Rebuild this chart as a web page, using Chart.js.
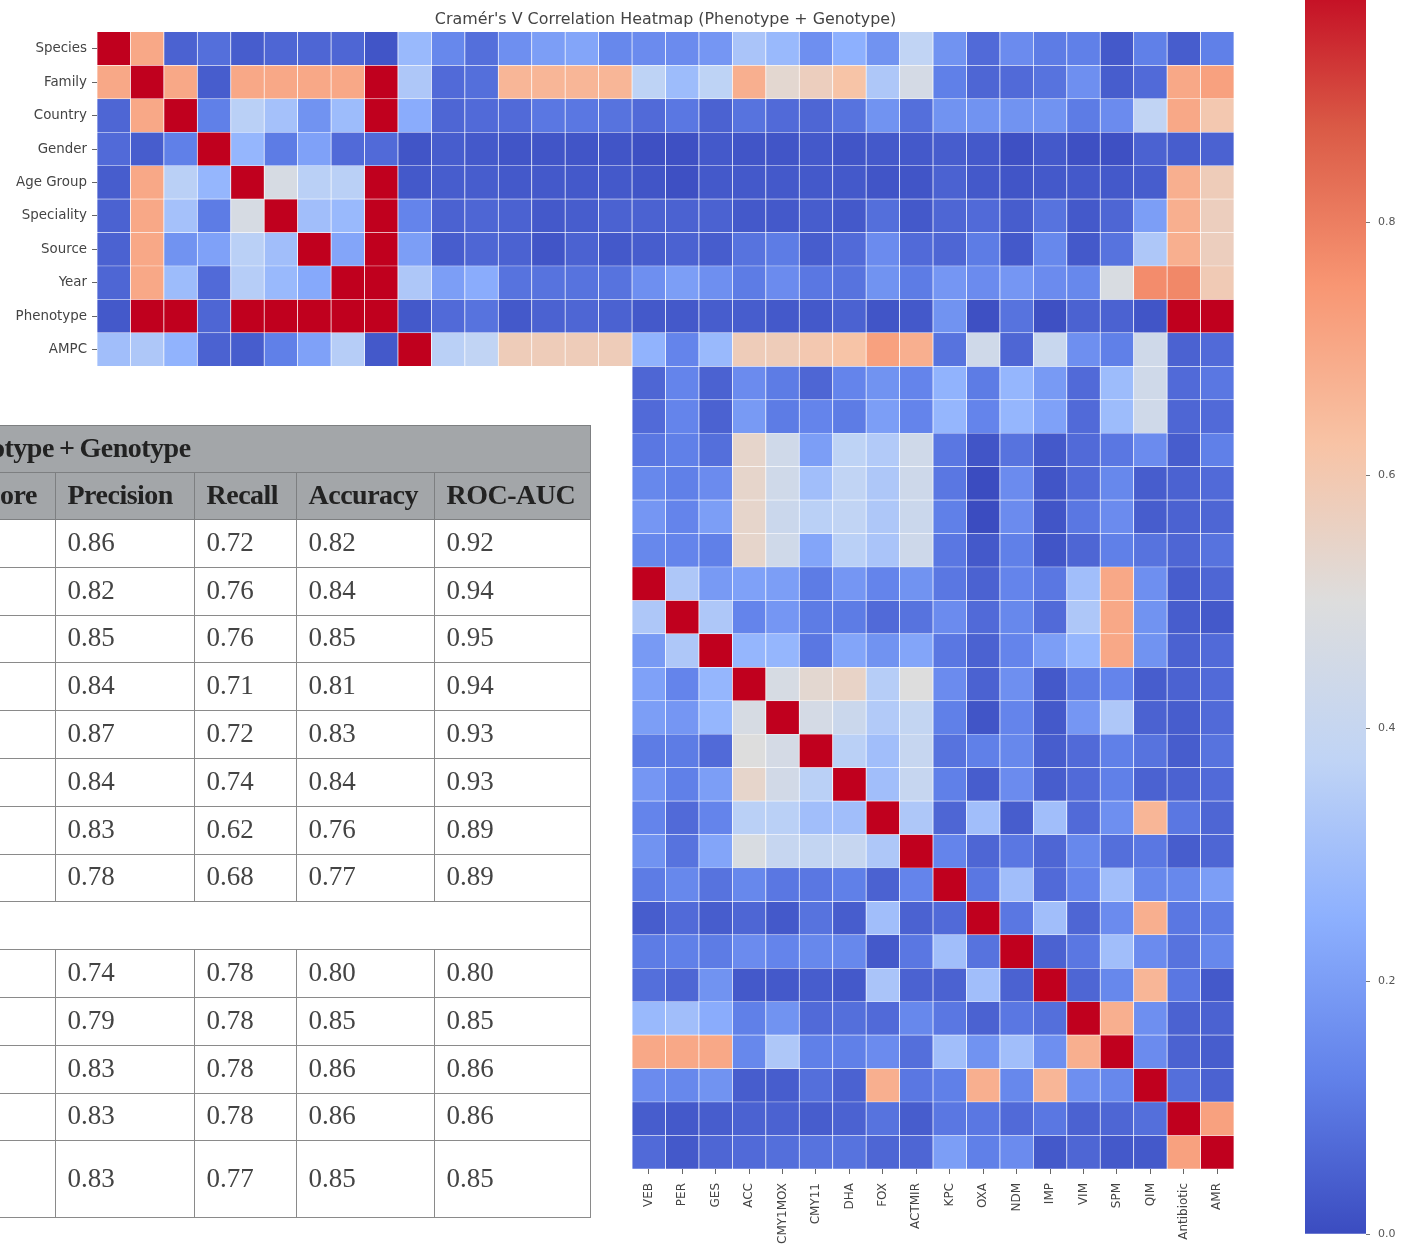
<!DOCTYPE html>
<html>
<head>
<meta charset="utf-8">
<title>Cramér's V Correlation Heatmap</title>
<script src="https://cdn.jsdelivr.net/npm/chart.js@4"></script>
<style>
  html, body { margin: 0; background: #fff; width: 1401px; height: 1247px; overflow: hidden; }
  #heat-wrap { position: absolute; left: 0; top: 0; width: 1401px; height: 1247px; filter: blur(.6px); }
  #bar-wrap { position: absolute; left: 1305px; top: 0; width: 96px; height: 1247px; filter: blur(.6px); }
  #scores {
    position: absolute; left: 0; top: 425px; width: 590px;
    table-layout: fixed; border-collapse: collapse; background: #fff;
    font-family: "Liberation Serif", serif; font-size: 27px; color: #444;
    filter: blur(.5px);
  }
  #scores td, #scores th {
    border: 1.5px solid #8a8a8a; padding: 0 0 2px 12px; text-align: left;
    white-space: nowrap; overflow: hidden;
  }
  #scores th { background: #a3a6a9; color: #222; font-size: 28px; letter-spacing: -.5px; font-weight: bold; border-color: #7d7f81; }
  #scores td.first, #scores th.first { padding: 0 0 2px 0; border-left: 0; }
  #scores th.title { padding: 0 0 2px 0; border-left: 0; text-indent: -9px; }
  #scores tr { height: 47.8px; }
  #scores tr.head { height: 47px; }
  #scores tr.last { height: 77px; }
</style>
</head>
<body>
<div id="heat-wrap"><canvas id="heat"></canvas></div>
<div id="bar-wrap"><canvas id="colorbar"></canvas></div>
<table id="scores"></table>
<script>
const chartTitle = "Cramér's V Correlation Heatmap (Phenotype + Genotype)";
const yLabels = ['Species', 'Family', 'Country', 'Gender', 'Age Group', 'Speciality', 'Source', 'Year', 'Phenotype', 'AMPC'];
const hiddenCols = Array(16).fill(null);
const xLabels = [...Array(16).fill(''), 'VEB', 'PER', 'GES', 'ACC', 'CMY1MOX', 'CMY11', 'DHA', 'FOX', 'ACTMIR', 'KPC', 'OXA', 'NDM', 'IMP', 'VIM', 'SPM', 'QIM', 'Antibiotic', 'AMR'];

// 34 columns each
const species   = [1,.7,.05,.08,.04,.06,.06,.06,.02,.28, .14,.08,.16,.2,.22,.14, .15,.15,.18,.32,.28,.16,.25,.17,.38,.17,.07,.15,.11,.12,.03,.12,.04,.12];
const family    = [.7,1,.7,.04,.7,.7,.7,.7,1,.33, .07,.08,.66,.66,.66,.66, .37,.29,.37,.68,.53,.57,.62,.33,.46,.12,.06,.07,.09,.16,.04,.07,.7,.72];
const country   = [.06,.7,1,.12,.36,.31,.17,.29,1,.24, .06,.07,.07,.1,.1,.09, .07,.1,.05,.09,.07,.06,.09,.17,.08,.17,.17,.17,.17,.11,.15,.38,.7,.6];
const gender    = [.07,.04,.12,1,.27,.11,.21,.07,.07,.02, .04,.03,.02,.02,.02,.02, .01,.01,.03,.02,.02,.03,.02,.03,.03,.04,.03,.01,.03,.01,.01,.05,.04,.05];
const ageGroup  = [.04,.7,.36,.27,1,.47,.36,.36,1,.03, .04,.04,.03,.03,.03,.03, .02,.01,.03,.03,.03,.03,.03,.02,.02,.05,.03,.02,.03,.03,.03,.04,.68,.58];
const speciality = [.05,.7,.31,.11,.47,1,.3,.28,1,.13, .05,.06,.05,.03,.04,.05, .05,.05,.05,.03,.03,.04,.03,.08,.03,.06,.07,.04,.09,.03,.06,.2,.68,.57];
const source    = [.05,.7,.17,.21,.36,.3,1,.22,1,.2, .04,.06,.05,.02,.05,.03, .04,.05,.04,.09,.11,.04,.07,.15,.07,.06,.11,.03,.14,.03,.09,.33,.68,.57];
const year      = [.06,.7,.29,.07,.35,.28,.23,1,1,.33, .2,.24,.09,.09,.09,.09, .16,.2,.16,.11,.15,.1,.09,.17,.11,.18,.15,.18,.15,.14,.48,.77,.78,.59];
const phenotype = [.03,1,1,.06,1,1,1,1,1,.03, .07,.09,.03,.05,.06,.05, .03,.03,.04,.04,.03,.03,.05,.02,.03,.17,.01,.09,.01,.05,.05,.02,1,1];
const ampc      = [.3,.33,.26,.05,.04,.12,.21,.35,.03,1, .36,.38,.58,.58,.58,.58, .26,.13,.28,.58,.58,.6,.62,.72,.68,.09,.44,.06,.41,.16,.12,.44,.05,.07];
const row10 = [...hiddenCols, .06,.13,.05,.15,.11,.06,.13,.17,.13,.26,.11,.27,.19,.07,.29,.44,.07,.1];
const row11 = [...hiddenCols, .07,.13,.05,.19,.11,.13,.11,.2,.13,.27,.13,.27,.21,.07,.29,.44,.06,.07];
const row12 = [...hiddenCols, .1,.12,.08,.54,.44,.2,.37,.34,.44,.1,.02,.09,.03,.07,.1,.15,.04,.12];
const row13 = [...hiddenCols, .14,.12,.15,.54,.44,.3,.38,.33,.43,.1,0,.15,.02,.07,.14,.04,.05,.07];
const row14 = [...hiddenCols, .18,.13,.2,.54,.42,.36,.38,.33,.42,.12,0,.15,.02,.1,.15,.04,.05,.06];
const row15 = [...hiddenCols, .14,.13,.12,.54,.44,.22,.36,.32,.43,.1,.03,.12,.02,.06,.12,.09,.06,.09];
const veb  = [...hiddenCols, 1,.33,.19,.21,.2,.11,.18,.13,.17,.1,.05,.13,.1,.3,.7,.16,.04,.06];
const per  = [...hiddenCols, .33,1,.33,.13,.18,.11,.11,.07,.09,.15,.07,.14,.07,.33,.7,.17,.04,.03];
const ges  = [...hiddenCols, .19,.33,1,.27,.27,.1,.22,.17,.22,.1,.05,.13,.2,.27,.7,.17,.05,.07];
const acc  = [...hiddenCols, .21,.13,.27,1,.47,.53,.55,.35,.5,.15,.05,.16,.03,.11,.13,.04,.05,.07];
const cmy1mox = [...hiddenCols, .2,.18,.27,.47,1,.46,.42,.34,.39,.12,.02,.13,.03,.18,.33,.05,.04,.07];
const cmy11 = [...hiddenCols, .11,.11,.07,.5,.46,1,.36,.3,.4,.09,.12,.14,.04,.07,.12,.09,.04,.09];
const dha  = [...hiddenCols, .18,.12,.2,.54,.45,.36,1,.3,.4,.12,.04,.15,.04,.07,.12,.05,.05,.07];
const fox  = [...hiddenCols, .13,.07,.13,.36,.36,.3,.3,1,.33,.06,.3,.04,.3,.07,.16,.66,.1,.06];
const actmir = [...hiddenCols, .17,.09,.22,.48,.4,.39,.4,.33,1,.13,.06,.1,.06,.14,.08,.1,.04,.06];
const kpc  = [...hiddenCols, .11,.14,.09,.14,.1,.1,.12,.05,.13,1,.1,.3,.07,.13,.3,.14,.14,.2];
const oxa  = [...hiddenCols, .04,.07,.04,.06,.03,.09,.04,.3,.05,.07,1,.1,.3,.06,.15,.68,.1,.11];
const ndm  = [...hiddenCols, .11,.12,.11,.15,.13,.14,.14,.03,.1,.3,.09,1,.05,.1,.3,.15,.09,.14];
const imp  = [...hiddenCols, .08,.06,.17,.03,.03,.04,.03,.32,.05,.05,.3,.05,1,.06,.14,.66,.1,.03];
const vim  = [...hiddenCols, .28,.3,.24,.12,.17,.07,.08,.07,.14,.1,.05,.1,.08,1,.68,.16,.05,.05];
const spm  = [...hiddenCols, .7,.7,.7,.14,.33,.12,.12,.15,.08,.3,.17,.3,.16,.68,1,.15,.05,.04];
const qim  = [...hiddenCols, .15,.14,.17,.04,.04,.08,.05,.68,.1,.12,.68,.14,.66,.16,.14,1,.08,.05];
const antibiotic = [...hiddenCols, .04,.03,.04,.05,.05,.04,.05,.09,.04,.1,.1,.07,.1,.05,.06,.08,1,.72];
const amr  = [...hiddenCols, .07,.03,.06,.07,.08,.09,.09,.06,.06,.2,.12,.15,.03,.06,.03,.03,.72,1];
const heatRows = [species, family, country, gender, ageGroup, speciality, source, year, phenotype, ampc,
  row10, row11, row12, row13, row14, row15,
  veb, per, ges, acc, cmy1mox, cmy11, dha, fox, actmir, kpc, oxa, ndm, imp, vim, spm, qim, antibiotic, amr];

const barTicks = [0, .2, .4, .6, .8];

// table
const tableTitle = 'otype\u2009+\u2009Genotype';
const tableHead = ['ore', 'Precision', 'Recall', 'Accuracy', 'ROC-AUC'];
const precision = ['0.86', '0.82', '0.85', '0.84', '0.87', '0.84', '0.83', '0.78', null, '0.74', '0.79', '0.83', '0.83', '0.83'];
const recall    = ['0.72', '0.76', '0.76', '0.71', '0.72', '0.74', '0.62', '0.68', null, '0.78', '0.78', '0.78', '0.78', '0.77'];
const accuracy  = ['0.82', '0.84', '0.85', '0.81', '0.83', '0.84', '0.76', '0.77', null, '0.80', '0.85', '0.86', '0.86', '0.85'];
const rocAuc    = ['0.92', '0.94', '0.95', '0.94', '0.93', '0.93', '0.89', '0.89', null, '0.80', '0.85', '0.86', '0.86', '0.85'];

// coolwarm
const cmapStops = [[0,59,76,192],[.125,98,130,234],[.25,141,176,254],[.375,192,212,245],[.5,221,221,221],[.625,248,195,165],[.75,248,150,115],[.875,218,90,70],[1,192,0,30]];
function cmap(v) {
  let i = 0;
  while (i < cmapStops.length - 2 && v > cmapStops[i + 1][0]) i++;
  const a = cmapStops[i], b = cmapStops[i + 1], t = (v - a[0]) / (b[0] - a[0]);
  return 'rgb(' + [1, 2, 3].map(k => Math.round(a[k] + (b[k] - a[k]) * t)).join(',') + ')';
}

Chart.defaults.animation = false;
Chart.defaults.responsive = true;
Chart.defaults.maintainAspectRatio = false;
Chart.defaults.font.family = 'DejaVu Sans';

new Chart(document.getElementById('heat'), {
  type: 'bar',
  data: {
    labels: xLabels,
    datasets: heatRows.map((row, r) => ({
      data: row.map(v => v === null ? null : [r, r + 1]),
      backgroundColor: row.map(v => v === null ? 'transparent' : cmap(v)),
      borderColor: 'rgba(255,255,255,.6)',
      borderWidth: .7,
      yAxisID: 'y'
    }))
  },
  options: {
    grouped: false,
    barPercentage: 1,
    categoryPercentage: 1,
    layout: { padding: { right: 167 } },
    plugins: { legend: { display: false }, tooltip: { enabled: false } },
    scales: {
      x: {
        offset: true,
        border: { display: false },
        grid: {
          offset: false, drawOnChartArea: false, tickLength: 5, tickWidth: 1,
          tickColor: ctx => ctx.index >= 16 ? '#666' : 'transparent'
        },
        ticks: { autoSkip: false, minRotation: 90, maxRotation: 90, padding: 9, color: '#444', font: { size: 12 } },
        afterFit: s => { s.height = 78; }
      },
      top: {
        type: 'linear', position: 'top',
        border: { display: false }, grid: { display: false }, ticks: { display: false },
        title: { display: true, text: chartTitle, color: '#444', font: { size: 15.9 }, padding: { top: 10, bottom: 0 } },
        afterFit: s => { s.height = 32; }
      },
      y: {
        type: 'linear', min: 0, max: heatRows.length, reverse: true,
        border: { display: false },
        grid: { drawOnChartArea: false, tickLength: 5, tickColor: '#666' },
        ticks: {
          padding: 5, color: '#444', font: { size: 13.4 }, autoSkip: false,
          callback: v => yLabels[v - .5]
        },
        afterBuildTicks: s => { s.ticks = yLabels.map((_, i) => ({ value: i + .5 })); },
        afterFit: s => { s.width = 97; }
      }
    }
  }
});

new Chart(document.getElementById('colorbar'), {
  type: 'bar',
  data: {
    labels: [''],
    datasets: [{
      data: [[0, 1]],
      borderWidth: 0,
      backgroundColor: ctx => {
        const { chart } = ctx;
        if (!chart.chartArea) return '#888';
        const y = chart.scales.y;
        const g = chart.ctx.createLinearGradient(0, y.getPixelForValue(0), 0, y.getPixelForValue(1));
        cmapStops.forEach(s => g.addColorStop(s[0], cmap(s[0])));
        return g;
      }
    }]
  },
  options: {
    barPercentage: 1,
    categoryPercentage: 1,
    layout: { padding: { bottom: 13 } },
    plugins: { legend: { display: false }, tooltip: { enabled: false } },
    scales: {
      x: { display: false },
      y: {
        position: 'right', min: 0, max: .9755,
        border: { display: false },
        grid: { drawOnChartArea: false, tickLength: 4, tickColor: '#777' },
        ticks: { padding: 8, color: '#555', font: { size: 11 }, callback: v => v.toFixed(1), includeBounds: false },
        afterBuildTicks: s => { s.ticks = barTicks.map(v => ({ value: v })); },
        afterFit: s => { s.width = 35; s.paddingTop = 0; s.paddingBottom = 0; }
      }
    }
  }
});

// the table sits on top of the heatmap and hides its lower left part
const table = document.getElementById('scores');
const colWidths = [55, 139, 102, 138, 156];
table.innerHTML = '<colgroup>' + colWidths.map(w => '<col style="width:' + w + 'px">').join('') + '</colgroup>'
  + '<tr class="head"><th colspan="5" class="title">' + tableTitle + '</th></tr>'
  + '<tr class="head">' + tableHead.map((h, i) => '<th' + (i === 0 ? ' class="first"' : '') + '>' + h + '</th>').join('') + '</tr>'
  + precision.map((p, i) => {
      if (p === null) return '<tr><td colspan="5" class="first"></td></tr>';
      const cls = i === precision.length - 1 ? ' class="last"' : '';
      return '<tr' + cls + '><td class="first"></td><td>' + p + '</td><td>' + recall[i] + '</td><td>' + accuracy[i] + '</td><td>' + rocAuc[i] + '</td></tr>';
    }).join('');
</script>
</body>
</html>
